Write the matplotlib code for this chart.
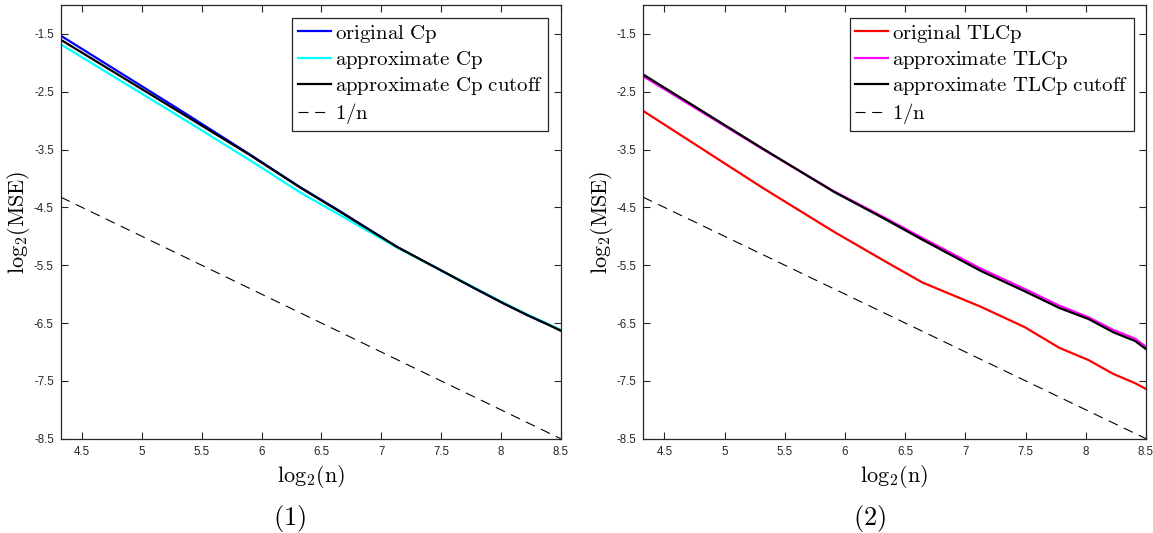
import numpy as np
import matplotlib
matplotlib.use("Agg")
import matplotlib.pyplot as plt

plt.rcParams["mathtext.fontset"] = "cm"
plt.rcParams["axes.unicode_minus"] = False
plt.rcParams["font.family"] = ["Liberation Sans", "DejaVu Sans"]

# sample sizes and their log2
n_vals = [20, 40, 60, 80, 100, 140, 180, 220, 260, 300, 340, 362]

# panel (1): log2(MSE) for the Cp variants
cp_original = [-1.53, -2.82, -3.59, -4.15, -4.55, -5.18, -5.58, -5.90, -6.16, -6.37, -6.54, -6.63]
cp_approx = [-1.68, -2.94, -3.69, -4.24, -4.62, -5.19, -5.58, -5.89, -6.15, -6.36, -6.53, -6.62]
cp_cutoff = [-1.60, -2.86, -3.60, -4.155, -4.56, -5.18, -5.58, -5.90, -6.16, -6.37, -6.54, -6.63]

# panel (2): log2(MSE) for the TLCp variants
tlcp_original = [-2.83, -4.17, -4.92, -5.42, -5.80, -6.22, -6.57, -6.93, -7.14, -7.38, -7.54, -7.64]
tlcp_approx = [-2.23, -3.50, -4.22, -4.67, -5.03, -5.56, -5.91, -6.20, -6.40, -6.62, -6.77, -6.91]
tlcp_cutoff = [-2.20, -3.49, -4.23, -4.69, -5.06, -5.60, -5.95, -6.24, -6.43, -6.66, -6.81, -6.95]

x_ticks = [4.5, 5, 5.5, 6, 6.5, 7, 7.5, 8, 8.5]
x_tick_labels = ["4.5", "5", "5.5", "6", "6.5", "7", "7.5", "8", "8.5"]
y_ticks = [-8.5, -7.5, -6.5, -5.5, -4.5, -3.5, -2.5, -1.5]
y_tick_labels = ["-8.5", "-7.5", "-6.5", "-5.5", "-4.5", "-3.5", "-2.5", "-1.5"]

x = np.log2(np.array(n_vals, dtype=float))
ref_line = -x  # slope of 1/n in log2 scale

W, H = 1153, 533
fig = plt.figure(figsize=(W / 100, H / 100), dpi=100)

axis_color = "#262626"


def make_axes(rect):
    ax = fig.add_axes(rect)
    ax.set_xlim(np.log2(20), 8.5)
    ax.set_ylim(-8.5, -1.0)
    ax.set_xticks(x_ticks)
    ax.set_xticklabels(x_tick_labels)
    ax.set_yticks(y_ticks)
    ax.set_yticklabels(y_tick_labels)
    ax.tick_params(direction="in", top=True, right=True, length=5, width=0.8,
                   colors=axis_color, labelsize=8.3, pad=5)
    for s in ax.spines.values():
        s.set_color(axis_color)
        s.set_linewidth(0.9)
    ax.set_xlabel(r"$\mathrm{log}_2(\mathrm{n})$", fontsize=16, labelpad=4)
    ax.set_ylabel(r"$\mathrm{log}_2(\mathrm{MSE})$", fontsize=16, labelpad=1)
    return ax


def add_legend(ax):
    leg = ax.legend(loc="upper right", fontsize=15, handlelength=1.6,
                    handletextpad=0.2, labelspacing=0.2, borderpad=0.25,
                    borderaxespad=0.6, fancybox=False, framealpha=1)
    leg.get_frame().set_edgecolor(axis_color)
    leg.get_frame().set_linewidth(0.9)
    return leg


ax1 = make_axes([60.7 / W, (H - 438.7) / H, 500 / W, 433.7 / H])
ax1.plot(x, cp_original, color="#0000ff", lw=1.6, label=r"$\mathrm{original\ Cp}$")
ax1.plot(x, cp_approx, color="#00ffff", lw=1.6, label=r"$\mathrm{approximate\ Cp}$")
ax1.plot(x, cp_cutoff, color="black", lw=1.6, label=r"$\mathrm{approximate\ Cp\ cutoff}$")
ax1.plot(x, ref_line, color="black", lw=0.8, ls=(0, (9, 6)), label=r"$1/\mathrm{n}$")
add_legend(ax1)

ax2 = make_axes([643 / W, (H - 438.7) / H, 503 / W, 433.7 / H])
ax2.plot(x, tlcp_original, color="#ff0000", lw=1.6, label=r"$\mathrm{original\ TLCp}$")
ax2.plot(x, tlcp_approx, color="#ff00ff", lw=1.6, label=r"$\mathrm{approximate\ TLCp}$")
ax2.plot(x, tlcp_cutoff, color="black", lw=1.6, label=r"$\mathrm{approximate\ TLCp\ cutoff}$")
ax2.plot(x, ref_line, color="black", lw=0.8, ls=(0, (9, 6)), label=r"$1/\mathrm{n}$")
add_legend(ax2)

fig.text(290 / W, 1 - 518 / H, r"$(1)$", fontsize=19, ha="center", va="center")
fig.text(870 / W, 1 - 518 / H, r"$(2)$", fontsize=19, ha="center", va="center")

fig.savefig("out.png", dpi=100)
